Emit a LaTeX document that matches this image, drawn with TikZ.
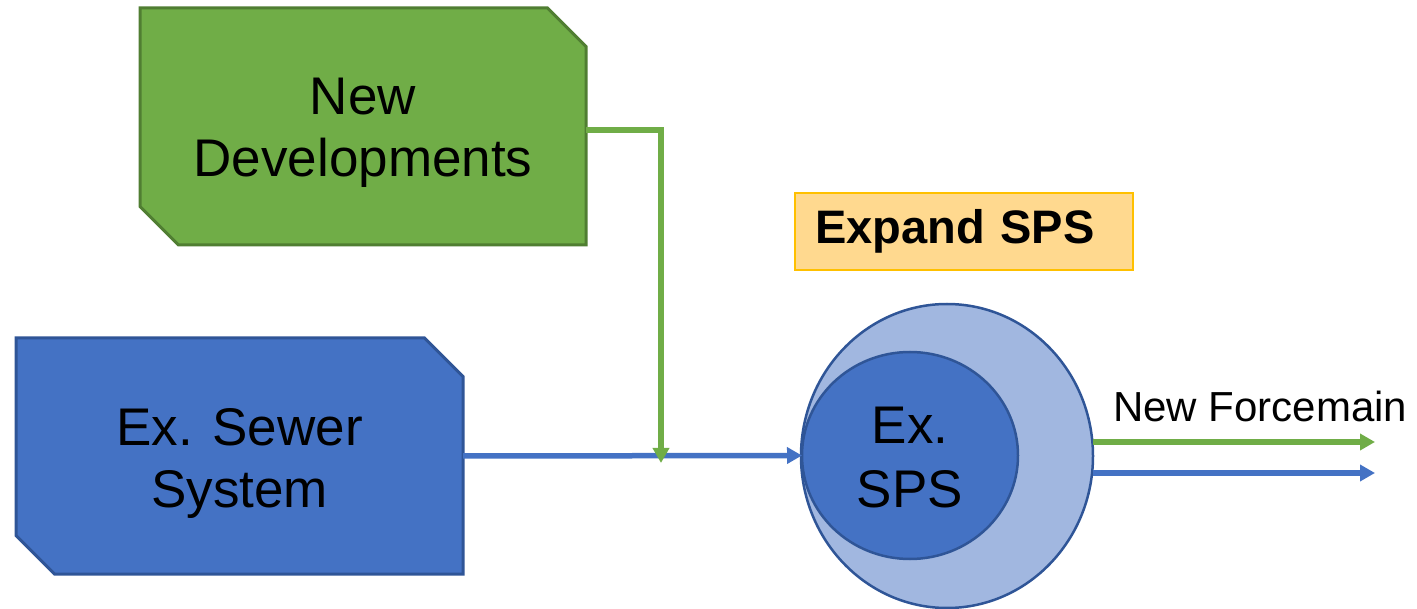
\documentclass[tikz,border=0pt]{standalone}
\usepackage{fontspec}
\setmainfont{Liberation Sans}
\usetikzlibrary{arrows.meta,shapes.geometric,backgrounds}

\definecolor{devgreen}{HTML}{70AD47}
\definecolor{devgreenline}{HTML}{507E32}
\definecolor{sewblue}{HTML}{4472C4}
\definecolor{sewblueline}{HTML}{2F5597}
\definecolor{palblue}{HTML}{A1B7E0}
\definecolor{expfill}{HTML}{FFD98F}
\definecolor{expline}{HTML}{FFC000}

\tikzset{
  bigtext/.style={font=\fontsize{53}{62}\selectfont, align=center, inner sep=0pt, outer sep=0pt},
  boxarea/.style={rectangle, draw=none, inner sep=0pt, outer sep=0pt},
  cutbox/.style={line width=3pt, line join=miter},
  flow/.style={line width=5.5pt, -{Triangle[length=15pt,width=16pt]}},
}

\begin{document}
\begin{tikzpicture}[x=1pt,y=-1pt]
\useasboundingbox (0,0) rectangle (1417,609);

% source boxes
\node[boxarea, minimum width=446pt, minimum height=237pt] (newdev) at (363,126.5) {};
\node[boxarea, minimum width=447pt, minimum height=236pt] (sewer) at (239.5,456) {};

\draw[cutbox, fill=devgreen, draw=devgreenline]
  (newdev.north west) -- ([xshift=-38.5pt]newdev.north east) -- ([yshift=-38.5pt]newdev.north east)
  -- (newdev.south east) -- ([xshift=38.5pt]newdev.south west) -- ([yshift=38.5pt]newdev.south west) -- cycle;
\draw[cutbox, fill=sewblue, draw=sewblueline]
  (sewer.north west) -- ([xshift=-38.5pt]sewer.north east) -- ([yshift=-38.5pt]sewer.north east)
  -- (sewer.south east) -- ([xshift=38.5pt]sewer.south west) -- ([yshift=38.5pt]sewer.south west) -- cycle;

\node[bigtext] (newdevtext) at ([yshift=-6pt]newdev.center) {New\\Developments};
\node[bigtext] (sewertext) at ([yshift=-7pt]sewer.center) {Ex. Sewer\\System};

% expansion label
\node[rectangle, fill=expfill, draw=expline, line width=1.5pt, minimum height=77pt,
      text width=298pt, inner xsep=20pt, inner ysep=0pt, align=left,
      font=\fontsize{47}{54}\selectfont\bfseries] (expand) at (964,231.5) {\raisebox{-3pt}{Expand SPS}};

% pump station
\node[ellipse, fill=palblue, draw=sewblueline, line width=2.5pt, inner sep=0pt, outer sep=0pt,
      minimum width=292pt, minimum height=304pt] (sps) at (947,456) {};
\node[ellipse, fill=sewblue, draw=sewblueline, line width=2.5pt, inner sep=0pt, outer sep=0pt,
      minimum width=216pt, minimum height=207pt] (exsps) at (910,455.5) {};
\node[font=\fontsize{53}{64}\selectfont, align=center, inner sep=0pt] (exspstext) at ([yshift=-2pt]exsps.center) {Ex.\\SPS};

% connectors into the station
\coordinate (merge) at (661,463);
\draw[flow, sewblue] (sewer.east) -- (exsps.west);
\draw[flow, devgreen] ([yshift=-3.5pt]newdev.east) -| (merge);

% forcemains out of the station
\coordinate (fmgreen) at (1375,442);
\coordinate (fmblue) at (1375,473);
\draw[flow, devgreen] (sps.east |- fmgreen) -- (fmgreen);
\draw[flow, sewblue] (sps.east |- fmblue) -- (fmblue);
\node[anchor=base west, inner sep=0pt, font=\fontsize{42}{48}\selectfont] (fmlabel) at (1113,422) {New Forcemain};
\end{tikzpicture}
\end{document}
